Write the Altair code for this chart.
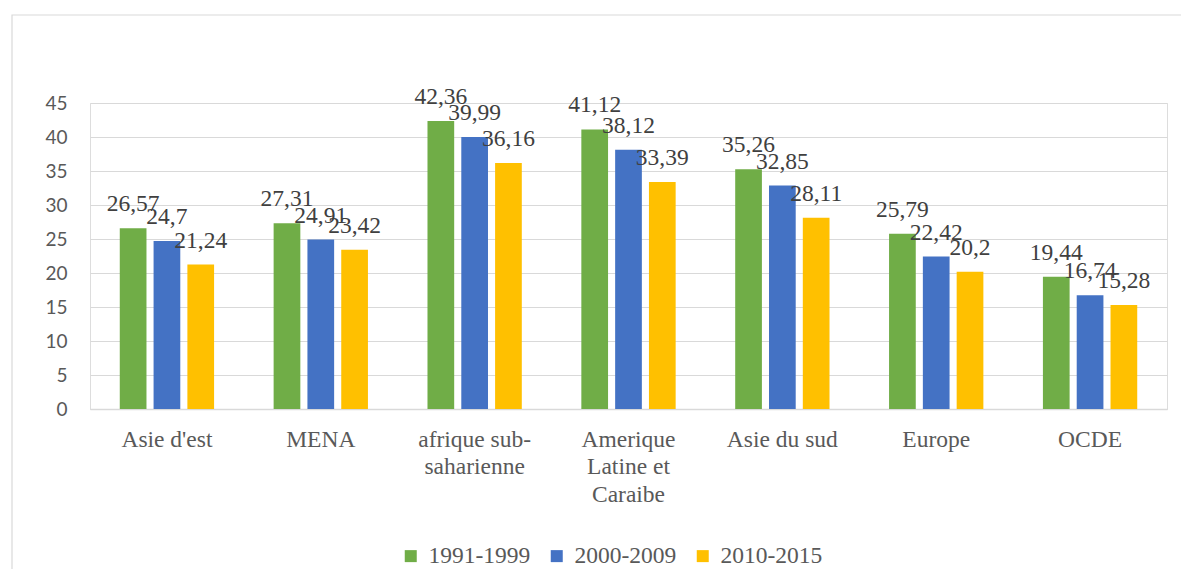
import altair as alt
import pandas as pd

categories = ["Asie d'est", "MENA", "afrique sub-saharienne", "Amerique Latine et Caraibe",
              "Asie du sud", "Europe", "OCDE"]
periods = ["1991-1999", "2000-2009", "2010-2015"]
v_1991_1999 = [26.57, 27.31, 42.36, 41.12, 35.26, 25.79, 19.44]
v_2000_2009 = [24.7, 24.91, 39.99, 38.12, 32.85, 22.42, 16.74]
v_2010_2015 = [21.24, 23.42, 36.16, 33.39, 28.11, 20.2, 15.28]
colors = ["#70AD47", "#4472C4", "#FFC000"]
y_ticks = [0, 5, 10, 15, 20, 25, 30, 35, 40, 45]

rows = []
for series, vals in zip(periods, [v_1991_1999, v_2000_2009, v_2010_2015]):
    for c, v in zip(categories, vals):
        rows.append({"cat": c, "period": series, "value": v})
df = pd.DataFrame(rows)

W, H = 1077, 306
SERIF = "Liberation Serif"

label_expr = ("datum.label == 'afrique sub-saharienne' ? ['afrique sub-', 'saharienne'] : "
              "datum.label == 'Amerique Latine et Caraibe' ? ['Amerique', 'Latine et', 'Caraibe'] : datum.label")

x_enc = alt.X("cat:N", sort=categories, title=None,
              scale=alt.Scale(paddingInner=0.387, paddingOuter=0.1935),
              axis=alt.Axis(labelExpr=label_expr, labelAngle=0, labelFont=SERIF,
                            labelFontSize=23.5, labelColor="#595959", labelLineHeight=27.5,
                            labelPadding=18, ticks=False, domainColor="#d9d9d9",
                            domainWidth=1.5, grid=False))
xoff_enc = alt.XOffset("period:N", sort=periods,
                       scale=alt.Scale(paddingInner=0.21, paddingOuter=0))
y_enc = alt.Y("value:Q", title=None,
              scale=alt.Scale(domain=[0, 45], nice=False),
              axis=alt.Axis(values=y_ticks, labelFont="Lato", labelFontSize=19,
                            labelColor="#595959", labelPadding=23, ticks=False,
                            domain=False, gridColor="#d9d9d9", gridWidth=1.2,
                            labelOverlap=False))

base = alt.Chart(df)

bars = base.mark_bar().encode(
    x=x_enc, xOffset=xoff_enc, y=y_enc,
    color=alt.Color("period:N", sort=periods,
                    scale=alt.Scale(domain=periods, range=colors),
                    legend=alt.Legend(title=None, orient="none", legendX=309, legendY=441,
                                      direction="horizontal", symbolType="square",
                                      symbolSize=144, symbolStrokeWidth=0, labelOffset=6,
                                      columnPadding=14, labelFont=SERIF,
                                      labelFontSize=23.5, labelColor="#595959", padding=0)),
)

labels = base.transform_calculate(
    txt="replace(toString(datum.value), '.', ',')"
).mark_text(baseline="alphabetic", align="center", dy=-17, font=SERIF,
            fontSize=23.5, color="#404040").encode(
    x=x_enc, xOffset=xoff_enc, y=y_enc,
    text="txt:N",
)

border = alt.Chart(pd.DataFrame({"a": [0]})).mark_rect(
    fill=None, stroke="#d9d9d9", strokeWidth=1.2, clip=False
).encode(x=alt.value(-78), x2=alt.value(1200), y=alt.value(-88), y2=alt.value(700))

chart = alt.layer(border, bars, labels).properties(
    width=W, height=H,
    autosize=alt.AutoSizeParams(type="none"),
    padding={"left": 82, "top": 95, "right": 14, "bottom": 160},
).configure_view(strokeWidth=0).configure(background="white")

chart.save("out.html", embed_options={"renderer": "svg", "actions": False})
